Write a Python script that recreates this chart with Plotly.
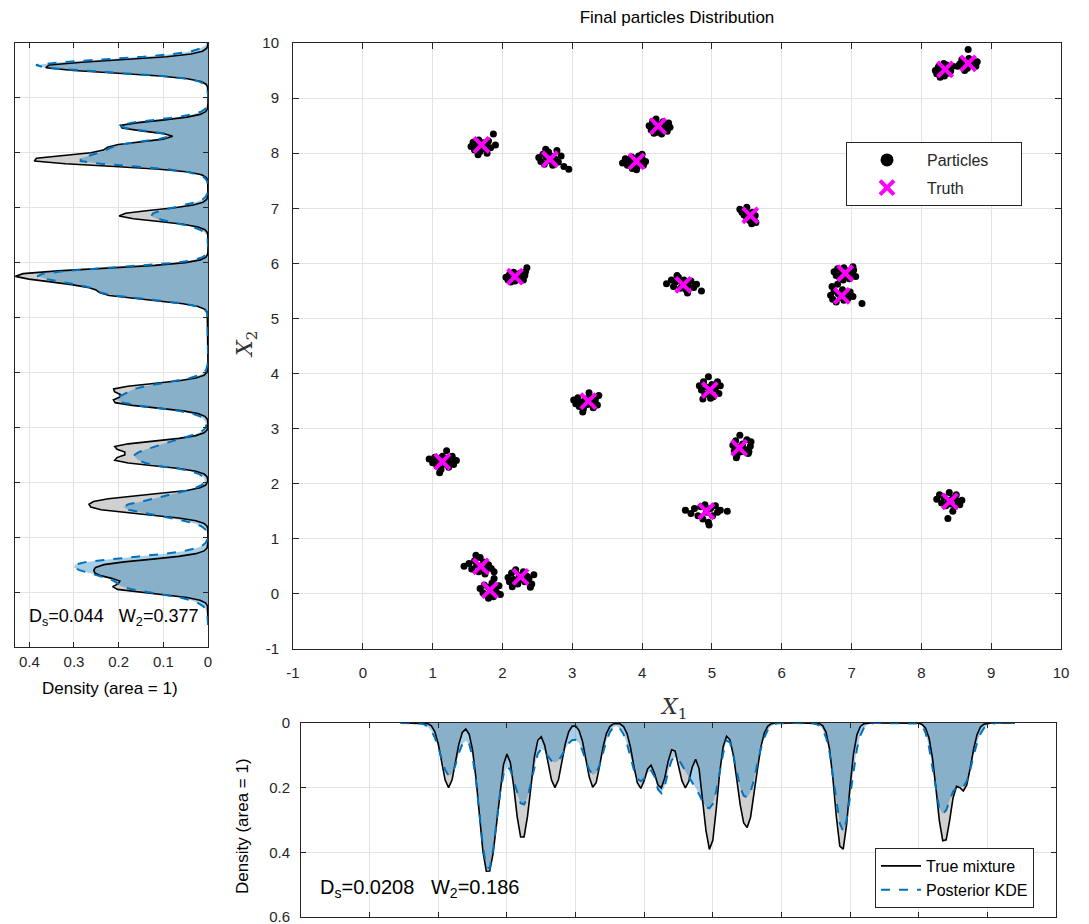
import plotly.graph_objects as go

W, H = 1089, 924

# ---------------- data ----------------
truth_x = [8.34, 8.67, 1.70, 2.68, 3.92, 4.23, 2.18, 4.59, 5.55, 6.91,
           6.86, 3.23, 1.14, 1.69, 1.82, 2.26, 4.97, 5.39, 4.92, 8.41]
truth_y = [9.52, 9.63, 8.15, 7.89, 7.85, 8.49, 5.76, 5.61, 6.87, 5.82,
           5.41, 3.50, 2.40, 0.50, 0.07, 0.31, 3.70, 2.65, 1.50, 1.68]

particles = [
    (8.20, 9.50), (8.22, 9.44), (8.25, 9.58), (8.28, 9.47), (8.30, 9.53), (8.33, 9.40), (8.36, 9.60),
    (8.38, 9.45), (8.40, 9.55), (8.42, 9.49), (8.27, 9.38), (8.45, 9.58), (8.32, 9.63), (8.24, 9.55),
    (8.55, 9.62), (8.58, 9.70), (8.60, 9.57), (8.63, 9.66), (8.66, 9.54), (8.68, 9.72), (8.70, 9.60),
    (8.72, 9.68), (8.75, 9.63), (8.78, 9.58), (8.62, 9.50), (8.67, 9.88), (8.80, 9.66), (8.52, 9.58),
    (1.55, 8.12), (1.58, 8.20), (1.60, 8.06), (1.63, 8.15), (1.66, 8.24), (1.68, 8.03), (1.70, 8.12),
    (1.72, 8.19), (1.74, 8.08), (1.77, 8.15), (1.80, 8.22), (1.83, 8.10), (1.87, 8.35), (1.90, 8.15),
    (1.65, 7.97), (1.78, 8.00),
    (2.52, 7.92), (2.55, 7.85), (2.58, 7.98), (2.60, 7.80), (2.63, 7.92), (2.66, 8.02), (2.68, 7.86),
    (2.70, 7.95), (2.72, 7.78), (2.75, 7.90), (2.78, 8.05), (2.80, 7.84), (2.84, 7.95), (2.88, 7.76),
    (2.95, 7.71), (2.62, 8.07),
    (3.72, 7.82), (3.76, 7.90), (3.79, 7.78), (3.82, 7.86), (3.85, 7.93), (3.88, 7.80), (3.90, 7.88),
    (3.93, 7.75), (3.95, 7.95), (3.97, 7.84), (4.00, 7.90), (4.02, 7.78), (4.05, 7.85), (3.92, 7.70),
    (4.00, 7.98), (3.86, 7.72),
    (4.10, 8.50), (4.13, 8.42), (4.15, 8.58), (4.18, 8.46), (4.20, 8.62), (4.22, 8.38), (4.25, 8.52),
    (4.27, 8.44), (4.30, 8.57), (4.33, 8.48), (4.36, 8.40), (4.38, 8.55), (4.28, 8.35), (4.17, 8.36),
    (4.40, 8.47),
    (2.05, 5.75), (2.08, 5.70), (2.10, 5.80), (2.13, 5.73), (2.16, 5.84), (2.18, 5.68), (2.20, 5.77),
    (2.23, 5.72), (2.25, 5.82), (2.28, 5.75), (2.30, 5.70), (2.33, 5.85), (2.35, 5.92), (2.32, 5.78),
    (2.12, 5.66),
    (4.35, 5.63), (4.42, 5.70), (4.45, 5.58), (4.48, 5.66), (4.52, 5.75), (4.55, 5.55), (4.58, 5.64),
    (4.60, 5.70), (4.63, 5.52), (4.66, 5.60), (4.70, 5.68), (4.74, 5.56), (4.78, 5.62), (4.85, 5.50),
    (4.65, 5.46), (4.50, 5.78),
    (5.40, 6.98), (5.43, 6.93), (5.46, 6.88), (5.48, 6.95), (5.50, 6.82), (5.52, 6.90), (5.54, 6.78),
    (5.56, 6.86), (5.58, 6.93), (5.60, 6.80), (5.62, 6.87), (5.63, 6.74), (5.50, 7.02), (5.57, 6.72),
    (6.75, 5.85), (6.78, 5.78), (6.80, 5.90), (6.83, 5.74), (6.86, 5.84), (6.89, 5.92), (6.92, 5.78),
    (6.94, 5.86), (6.97, 5.72), (7.00, 5.82), (7.03, 5.88), (7.06, 5.76), (6.88, 5.70), (7.02, 5.94),
    (6.70, 5.42), (6.73, 5.35), (6.75, 5.50), (6.78, 5.30), (6.81, 5.45), (6.84, 5.38), (6.87, 5.52),
    (6.89, 5.33), (6.92, 5.44), (6.95, 5.36), (6.98, 5.48), (7.02, 5.40), (7.15, 5.27), (6.72, 5.58),
    (6.80, 5.62),
    (3.02, 3.52), (3.05, 3.45), (3.08, 3.56), (3.10, 3.40), (3.13, 3.48), (3.16, 3.36), (3.19, 3.54),
    (3.22, 3.44), (3.25, 3.58), (3.28, 3.47), (3.30, 3.38), (3.33, 3.52), (3.36, 3.43), (3.38, 3.60),
    (3.15, 3.30), (3.24, 3.65),
    (0.95, 2.45), (1.00, 2.38), (1.03, 2.48), (1.06, 2.32), (1.09, 2.42), (1.12, 2.26), (1.14, 2.50),
    (1.17, 2.36), (1.20, 2.45), (1.23, 2.30), (1.26, 2.40), (1.30, 2.35), (1.34, 2.42), (1.20, 2.60),
    (1.10, 2.20), (1.28, 2.50),
    (1.45, 0.50), (1.52, 0.55), (1.56, 0.45), (1.60, 0.60), (1.63, 0.52), (1.66, 0.40), (1.68, 0.66),
    (1.70, 0.48), (1.73, 0.58), (1.76, 0.44), (1.80, 0.53), (1.84, 0.46), (1.88, 0.40), (1.62, 0.70),
    (1.75, 0.36),
    (1.68, 0.10), (1.72, 0.02), (1.74, 0.16), (1.77, -0.02), (1.80, 0.12), (1.83, 0.04), (1.85, 0.20),
    (1.87, -0.05), (1.90, 0.10), (1.92, 0.02), (1.95, 0.15), (1.80, -0.08), (1.88, 0.28), (1.97, -0.01),
    (2.08, 0.30), (2.10, 0.22), (2.13, 0.38), (2.16, 0.26), (2.19, 0.44), (2.22, 0.18), (2.24, 0.34),
    (2.27, 0.26), (2.30, 0.40), (2.32, 0.22), (2.35, 0.32), (2.38, 0.28), (2.42, 0.18), (2.45, 0.35),
    (2.14, 0.13), (2.40, 0.12),
    (4.82, 3.78), (4.85, 3.70), (4.88, 3.85), (4.90, 3.62), (4.93, 3.75), (4.95, 3.94), (4.97, 3.66),
    (5.00, 3.80), (5.02, 3.58), (5.05, 3.72), (5.08, 3.85), (5.10, 3.64), (5.12, 3.78), (4.87, 3.54),
    (4.98, 3.55),
    (5.30, 2.70), (5.32, 2.60), (5.34, 2.78), (5.36, 2.52), (5.38, 2.66), (5.40, 2.88), (5.42, 2.58),
    (5.44, 2.72), (5.47, 2.62), (5.50, 2.80), (5.52, 2.55), (5.55, 2.68), (5.56, 2.76), (5.35, 2.47),
    (5.53, 2.58),
    (4.62, 1.52), (4.70, 1.46), (4.75, 1.55), (4.80, 1.42), (4.84, 1.58), (4.87, 1.36), (4.90, 1.62),
    (4.92, 1.48), (4.95, 1.30), (4.98, 1.55), (5.01, 1.42), (5.05, 1.60), (5.08, 1.48), (5.12, 1.52),
    (5.22, 1.50), (4.96, 1.25),
    (8.22, 1.72), (8.26, 1.80), (8.29, 1.65), (8.32, 1.76), (8.35, 1.60), (8.38, 1.70), (8.40, 1.84),
    (8.42, 1.63), (8.45, 1.74), (8.48, 1.58), (8.52, 1.68), (8.55, 1.62), (8.58, 1.70), (8.45, 1.50),
    (8.38, 1.37), (8.50, 1.80),
]
particle_x = [p[0] for p in particles]
particle_y = [p[1] for p in particles]

# bottom marginal (X1): densities read every 0.05 starting at x = 0.45
x1_start, x1_step = 0.45, 0.05
x1_true = [
    0, 0, 0, 0, 0, 0, .0001, .0004, .0022, .0088, .0271, .0649, .1213, .1765, .2000, .1765, .1214, .0653, .0295, .0188,
    .0346, .0840, .1724, .2881, .3960, .4584, .4579, .4016, .3099, .2090, .1292, .0962, .1224, .1976, .2900, .3527, .3525, .2889, .1927, .1059,
    .0535, .0425, .0691, .1222, .1766, .2000, .1765, .1213, .0649, .0274, .0104, .0090, .0225, .0557, .1092, .1671, .1990, .1846, .1334, .0751,
    .0329, .0112, .0030, .0012, .0031, .0112, .0329, .0751, .1334, .1846, .2020, .1783, .1421, .1307, .1555, .1915, .2010, .1696, .1180, .0827,
    .0870, .1281, .1782, .2010, .1804, .1365, .1120, .1417, .2281, .3320, .3908, .3631, .2659, .1540, .0738, .0409, .0520, .1008, .1757, .2540,
    .3092, .3229, .2913, .2240, .1432, .0745, .0308, .0101, .0026, .0005, .0001, 0, 0, 0, 0, 0, 0, 0, 0, 0,
    0, .0003, .0018, .0082, .0290, .0800, .1725, .2899, .3806, .3904, .3123, .1951, .0951, .0363, .0108, .0025, .0005, 0, 0, 0,
    0, 0, 0, 0, 0, 0, 0, 0, 0, 0, .0001, .0009, .0043, .0158, .0463, .1080, .2008, .3009, .3645, .3615,
    .3018, .2318, .1961, .2000, .2102, .1916, .1399, .0805, .0361, .0126, .0035, .0007, .0001, 0, 0, 0, 0, 0, 0, 0,
]
x1_kde = [
    0, 0, 0, 0, 0, .001, .002, .005, .012, .025, .045, .075, .112, .145, .163, .158, .130, .093, .066, .055,
    .065, .105, .18, .28, .38, .445, .45, .39, .30, .215, .16, .135, .145, .18, .22, .248, .252, .23, .185, .135,
    .095, .08, .087, .103, .117, .122, .117, .10, .08, .063, .053, .052, .062, .085, .117, .145, .16, .155, .13, .093,
    .055, .028, .013, .010, .018, .035, .065, .105, .145, .172, .18, .172, .155, .147, .165, .205, .217, .195, .15, .115,
    .105, .112, .13, .15, .168, .185, .20, .22, .243, .26, .264, .25, .21, .155, .095, .055, .06, .10, .155, .20,
    .225, .23, .213, .175, .125, .08, .045, .022, .01, .004, .001, 0, 0, 0, 0, 0, 0, 0, 0, 0,
    .001, .003, .008, .02, .045, .09, .16, .24, .31, .336, .30, .225, .145, .08, .038, .016, .006, .002, 0, 0,
    0, 0, 0, 0, 0, 0, 0, 0, 0, 0, .001, .002, .008, .03, .075, .14, .21, .265, .281, .27,
    .24, .212, .2, .198, .197, .18, .145, .10, .062, .033, .016, .007, .003, .001, 0, 0, 0, 0, 0, 0,
]

# left marginal (X2): densities read every 0.05 starting at y = -0.60
x2_start, x2_step = -0.60, 0.05
x2_true = [
    0, 0, 0, 0, 0, 0, .0002, .0012, .0052, .0178, .0471, .0977, .1581, .2028, .2136, .2012, .1973, .2154, .2403, .2535,
    .2556, .2517, .2329, .1877, .1243, .0655, .0272, .0088, .0022, .0004, .0001, 0, 0, 0, 0, .0004, .0022, .0088, .0272, .0658,
    .1253, .1907, .2395, .2624, .2665, .2563, .2231, .1653, .0996, .0475, .0178, .0052, .0013, .0006, .0022, .0088, .0271, .0650, .1217, .1787,
    .2088, .2036, .1862, .1862, .2036, .2088, .1787, .1217, .0649, .0271, .0088, .0022, .0004, .0001, .0003, .0016, .0068, .0221, .0557, .1096,
    .1693, .2078, .2117, .1983, .1964, .2094, .2112, .1795, .1219, .0650, .0271, .0088, .0022, .0004, .0001, 0, 0, 0, 0, 0,
    0, 0, 0, 0, 0, 0, 0, 0, 0, 0, 0, 0, .0001, .0003, .0016, .0068, .0222, .0559, .1108, .1740,
    .2214, .2420, .2506, .2695, .3053, .3521, .4009, .4312, .4136, .3360, .2233, .1194, .0508, .0172, .0046, .0010, .0001, 0, 0, 0,
    0, .0001, .0003, .0016, .0068, .0221, .0556, .1092, .1671, .1990, .1846, .1334, .0751, .0329, .0112, .0030, .0006, .0001, 0, 0,
    0, .0001, .0007, .0036, .0142, .0441, .1080, .2087, .3192, .3888, .3839, .3234, .2622, .2342, .2250, .2007, .1511, .1004, .0790, .1001,
    .1492, .1923, .1962, .1565, .0974, .0471, .0178, .0052, .0012, .0002, 0, 0, 0, 0, 0, .0001, .0010, .0043, .0158, .0463,
    .1080, .2008, .3006, .3631, .3555, .2820, .1805, .0929, .0381, .0124, .0032, .0006, .0001,
]
x2_kde = [
    0, 0, .001, .001, .002, .003, .006, .012, .022, .038, .062, .095, .135, .17, .193, .203, .21, .225, .245, .268,
    .288, .30, .298, .272, .22, .155, .095, .052, .026, .012, .005, .002, .001, .001, .003, .007, .015, .03, .055, .085,
    .115, .15, .178, .19, .178, .148, .122, .097, .072, .047, .027, .014, .008, .007, .011, .02, .038, .068, .112, .14,
    .155, .163, .164, .155, .138, .12, .10, .08, .058, .037, .02, .01, .005, .004, .006, .01, .018, .035, .065, .11,
    .158, .19, .203, .2, .19, .178, .165, .14, .105, .07, .04, .02, .009, .004, .002, .001, 0, 0, 0, 0,
    0, 0, 0, 0, 0, 0, 0, 0, 0, 0, 0, 0, 0, .001, .003, .008, .022, .052, .10, .16,
    .21, .238, .25, .265, .295, .33, .362, .382, .37, .315, .225, .135, .068, .03, .012, .004, .001, 0, 0, 0,
    0, .001, .003, .008, .018, .035, .06, .09, .115, .127, .123, .105, .078, .05, .027, .012, .005, .002, .001, 0,
    0, .001, .003, .008, .02, .045, .09, .16, .24, .285, .285, .265, .245, .228, .215, .195, .155, .11, .085, .097,
    .142, .185, .198, .17, .12, .07, .035, .015, .006, .002, .001, 0, 0, 0, 0, .001, .003, .008, .02, .048,
    .10, .18, .28, .365, .385, .33, .235, .145, .078, .037, .017, .007, .003,
]

x1_grid = [round(x1_start + x1_step * i, 2) for i in range(len(x1_true))]
x2_grid = [round(x2_start + x2_step * i, 2) for i in range(len(x2_true))]

main_ticks = list(range(-1, 11))
main_ticktext = [str(v) for v in main_ticks]
left_ticks = [0.4, 0.3, 0.2, 0.1, 0]
left_ticktext = ['0.4', '0.3', '0.2', '0.1', '0']
bottom_ticks = [0, 0.2, 0.4, 0.6]
bottom_ticktext = ['0', '0.2', '0.4', '0.6']

# ---------------- styles ----------------
TXT = '#262626'
GRID = '#e3e3e3'
GRAY_FILL = 'rgb(208,208,208)'
BLUE = 'rgb(0,114,189)'
BLUE_FILL = 'rgba(0,114,189,0.34)'
FONT = 'Liberation Sans, Arial, sans-serif'
SERIF = 'DejaVu Serif, Liberation Serif, serif'
PAD = '\u00a0' * 6

fig = go.Figure()

# ---- left marginal ----
fig.add_trace(go.Scatter(x=x2_true, y=x2_grid, mode='none', fill='tozerox', fillcolor=GRAY_FILL,
                         xaxis='x2', yaxis='y2', showlegend=False, hoverinfo='skip'))
fig.add_trace(go.Scatter(x=x2_kde, y=x2_grid, mode='none', fill='tozerox', fillcolor=BLUE_FILL,
                         xaxis='x2', yaxis='y2', showlegend=False, hoverinfo='skip'))
fig.add_trace(go.Scatter(x=x2_true, y=x2_grid, mode='lines', line=dict(color='black', width=1.6),
                         xaxis='x2', yaxis='y2', showlegend=False))
fig.add_trace(go.Scatter(x=x2_kde, y=x2_grid, mode='lines', line=dict(color=BLUE, width=2, dash='dash'),
                         xaxis='x2', yaxis='y2', showlegend=False))

# ---- bottom marginal ----
fig.add_trace(go.Scatter(x=x1_grid, y=x1_true, mode='none', fill='tozeroy', fillcolor=GRAY_FILL,
                         xaxis='x3', yaxis='y3', showlegend=False, hoverinfo='skip'))
fig.add_trace(go.Scatter(x=x1_grid, y=x1_kde, mode='none', fill='tozeroy', fillcolor=BLUE_FILL,
                         xaxis='x3', yaxis='y3', showlegend=False, hoverinfo='skip'))
fig.add_trace(go.Scatter(x=x1_grid, y=x1_true, mode='lines', line=dict(color='black', width=1.6),
                         xaxis='x3', yaxis='y3', showlegend=False))
fig.add_trace(go.Scatter(x=x1_grid, y=x1_kde, mode='lines', line=dict(color=BLUE, width=2, dash='dash'),
                         xaxis='x3', yaxis='y3', showlegend=False))
# legend entries (bottom)
fig.add_trace(go.Scatter(x=[None], y=[None], mode='lines', line=dict(color='black', width=1.6),
                         name='True mixture', xaxis='x3', yaxis='y3', legend='legend2'))
fig.add_trace(go.Scatter(x=[None], y=[None], mode='lines', line=dict(color=BLUE, width=2, dash='dash'),
                         name='Posterior KDE', xaxis='x3', yaxis='y3', legend='legend2'))

# ---- main scatter ----
fig.add_trace(go.Scatter(x=particle_x, y=particle_y, mode='markers',
                         marker=dict(color='black', size=7, line=dict(width=0)),
                         showlegend=False, xaxis='x', yaxis='y'))
fig.add_trace(go.Scatter(x=truth_x, y=truth_y, mode='markers',
                         marker=dict(symbol='x-thin', size=15, color='magenta',
                                     line=dict(color='magenta', width=4)),
                         showlegend=False, xaxis='x', yaxis='y'))
fig.add_trace(go.Scatter(x=[None], y=[None], mode='markers', name='Particles' + PAD, legendgroup='p',
                         marker=dict(color='black', size=13), xaxis='x', yaxis='y'))
fig.add_trace(go.Scatter(x=[None], y=[None], mode='markers', name='Truth', legendgroup='t',
                         marker=dict(symbol='x-thin', size=14, color='magenta',
                                     line=dict(color='magenta', width=4)), xaxis='x', yaxis='y'))


def ax(**kw):
    base = dict(showline=True, linecolor=TXT, linewidth=1, mirror='ticks', ticks='inside',
                ticklen=6, tickcolor=TXT, tickwidth=1, showgrid=True, gridcolor=GRID, gridwidth=1,
                zeroline=False, tickfont=dict(size=15, color=TXT, family=FONT),
                ticklabeloverflow='allow')
    base.update(kw)
    return base


def px(x):
    return x / W


def py(y):
    return 1 - y / H


def note(text, x, y, size, family=FONT, color='black', angle=0):
    return dict(text=text, x=px(x), y=py(y), xref='paper', yref='paper', showarrow=False,
                xanchor='center', yanchor='middle', textangle=angle,
                font=dict(size=size, color=color, family=family))


fig.update_layout(
    width=W, height=H, margin=dict(l=0, r=0, t=0, b=0, pad=0, autoexpand=False),
    paper_bgcolor='white', plot_bgcolor='white',
    font=dict(family=FONT, size=15, color=TXT),
    xaxis=ax(domain=[px(293), px(1061)], range=[-1, 10], tickvals=main_ticks, ticktext=main_ticktext,
             anchor='y', ticklabelstandoff=10),
    yaxis=ax(domain=[py(649), py(43)], range=[-1, 10], tickvals=main_ticks, ticktext=main_ticktext,
             anchor='x', ticklabelstandoff=10),
    xaxis2=ax(domain=[px(15), px(208)], range=[0.432, 0], tickvals=left_ticks, ticktext=left_ticktext,
              anchor='y2', ticklabelstandoff=1, ticklen=5),
    yaxis2=ax(domain=[py(647), py(43)], range=[-1, 10], tickvals=main_ticks, showticklabels=False,
              anchor='x2', ticklen=5),
    xaxis3=ax(domain=[px(301), px(1056)], range=[-1, 10], tickvals=main_ticks, showticklabels=False,
              anchor='y3', ticklen=5),
    yaxis3=ax(domain=[py(917), py(723)], range=[0.6, 0], tickvals=bottom_ticks, ticktext=bottom_ticktext,
              anchor='x3', ticklabelstandoff=7, ticklen=5),
    legend=dict(x=px(846), y=py(142), xanchor='left', yanchor='top', bgcolor='white',
                bordercolor=TXT, borderwidth=1, font=dict(size=16, color=TXT, family=FONT),
                itemwidth=70, tracegroupgap=4, traceorder='grouped'),
    legend2=dict(x=px(875), y=py(848), xanchor='left', yanchor='top', bgcolor='white',
                 bordercolor=TXT, borderwidth=1, font=dict(size=16, color='black', family=FONT),
                 itemwidth=40),
    title=dict(text='Final particles Distribution', x=px(677), y=py(17), xanchor='center', yanchor='middle',
               font=dict(size=17, color='black', family=FONT)),
    annotations=[
        note('<i>X</i><sub>1</sub>', 673, 708, 22, SERIF, '#333333'),
        note('<i>X</i><sub>2</sub>', 246, 345, 22, SERIF, '#333333', -90),
        note('Density (area = 1)', 110, 688, 17),
        note('Density (area = 1)', 242, 826, 17, angle=-90),
        note('D<sub>s</sub>=0.044   W<sub>2</sub>=0.377', 113, 617, 18),
        note('D<sub>s</sub>=0.0208   W<sub>2</sub>=0.186', 419, 888, 20),
    ],
)

fig.write_html('out.html')
